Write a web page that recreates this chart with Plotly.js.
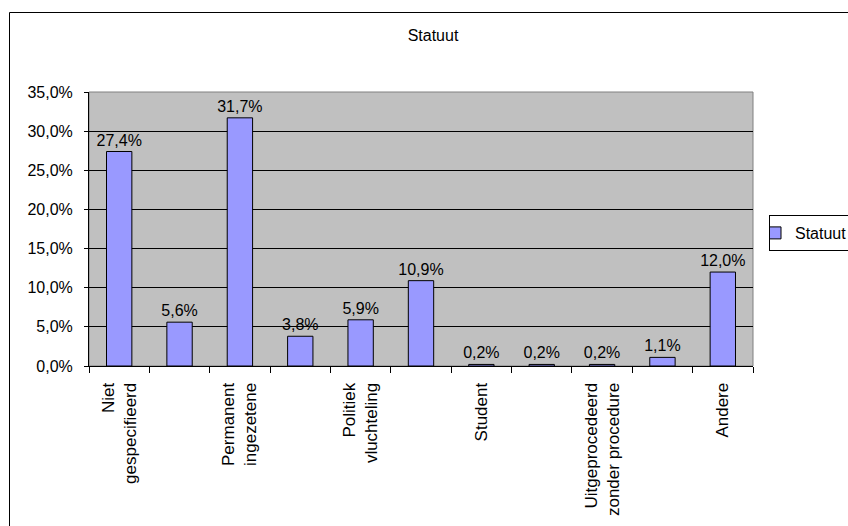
<!DOCTYPE html>
<html>
<head>
<meta charset="utf-8">
<script src="https://cdn.plot.ly/plotly-3.0.1.min.js"></script>
<style>
  html, body { margin: 0; padding: 0; background: #ffffff; }
  #chart { width: 848px; height: 526px; }
</style>
</head>
<body>
<div id="chart"></div>
<script>
// Categories (only every other one is labelled in the original chart)
var categories = [
  "Niet gespecifieerd", "", "Permanent ingezetene", "", "Politiek vluchteling",
  "", "Student", "", "Uitgeprocedeerd zonder procedure", "", "Andere"
];
var tickLabels = [
  "Niet<br>gespecifieerd", "", "Permanent<br>ingezetene", "", "Politiek<br>vluchteling",
  "", "Student", "", "Uitgeprocedeerd<br>zonder procedure", "", "Andere"
];
// Series values (percent)
var statuutValues = [27.4, 5.6, 31.7, 3.8, 5.9, 10.9, 0.2, 0.2, 0.2, 1.1, 12.0];
var seriesName = "Statuut";
var chartTitle = "Statuut";

var idx = categories.map(function (c, i) { return i; });
var boundaries = [];
for (var b = 0; b <= categories.length; b++) boundaries.push(b - 0.5);
var xRange = [-0.5, categories.length - 0.5];

var FONT = '"Liberation Sans", Arial, sans-serif';

var trace = {
  type: 'bar',
  name: seriesName,
  x: idx,
  y: statuutValues,
  width: 0.42,
  marker: { color: '#9999FF', line: { color: '#000000', width: 1 } },
  text: statuutValues,
  texttemplate: '%{y:.1f}%',
  textposition: 'outside',
  constraintext: 'none',
  cliponaxis: false,
  textfont: { family: FONT, size: 16, color: '#000000' },
  outsidetextfont: { family: FONT, size: 16, color: '#000000' },
  hoverinfo: 'skip'
};

var layout = {
  width: 848,
  height: 526,
  margin: { l: 89, r: 95, t: 92, b: 160, autoexpand: false },
  paper_bgcolor: '#ffffff',
  plot_bgcolor: '#C0C0C0',
  separators: ',.',
  font: { family: FONT, size: 16, color: '#000000' },
  title: {
    text: chartTitle,
    font: { family: FONT, size: 16, color: '#000000' },
    x: 433 / 848, xanchor: 'center', xref: 'container',
    y: 1 - 35 / 526, yanchor: 'middle', yref: 'container',
    automargin: false
  },
  showlegend: true,
  legend: {
    x: (769 - 89) / 664, xanchor: 'left',
    y: (366 - 215) / 274, yanchor: 'top',
    bgcolor: '#ffffff',
    bordercolor: '#000000',
    borderwidth: 1,
    indentation: -15,
    font: { family: FONT, size: 16, color: '#000000' }
  },
  bargap: 0,
  xaxis: {
    range: xRange,
    tickmode: 'array',
    tickvals: boundaries,
    showticklabels: false,
    ticks: 'outside',
    ticklen: 6,
    tickcolor: '#000000',
    showline: true,
    linecolor: '#000000',
    linewidth: 1,
    showgrid: false,
    zeroline: false,
    fixedrange: true
  },
  xaxis2: {
    overlaying: 'x',
    anchor: 'y',
    side: 'bottom',
    range: xRange,
    tickmode: 'array',
    tickvals: idx,
    ticktext: tickLabels,
    tickangle: -90,
    ticks: 'outside',
    ticklen: 9,
    tickcolor: 'rgba(0,0,0,0)',
    tickfont: { family: FONT, size: 17, color: '#000000' },
    showline: false,
    showgrid: false,
    zeroline: false,
    fixedrange: true
  },
  yaxis: {
    range: [0, 35],
    tickmode: 'linear',
    tick0: 0,
    dtick: 5,
    tickformat: '.1f',
    ticksuffix: '%',
    ticks: 'outside',
    ticklen: 4,
    tickcolor: '#000000',
    ticklabelstandoff: 8,
    tickfont: { family: FONT, size: 16, color: '#000000' },
    showline: true,
    linecolor: '#000000',
    linewidth: 1,
    showgrid: true,
    gridcolor: '#000000',
    gridwidth: 1,
    zeroline: false,
    fixedrange: true
  },
  shapes: [
    { type: 'rect', xref: 'paper', yref: 'paper', x0: 0, x1: 1, y0: 0, y1: 1,
      line: { color: '#808080', width: 1 }, fillcolor: 'rgba(0,0,0,0)', layer: 'below' },
    { type: 'rect', xref: 'paper', yref: 'paper',
      x0: (9.5 - 89) / 664, x1: (870 - 89) / 664,
      y0: (366 - 540) / 274, y1: (366 - 12.5) / 274,
      line: { color: '#000000', width: 1 }, fillcolor: 'rgba(0,0,0,0)', layer: 'below' }
  ]
};

// helper trace so the label axis (xaxis2) is drawn
var labelTrace = {
  type: 'scatter', mode: 'markers', x: idx, y: idx.map(function () { return null; }),
  xaxis: 'x2', yaxis: 'y', showlegend: false, hoverinfo: 'skip'
};

Plotly.newPlot('chart', [trace, labelTrace], layout, { staticPlot: true, displayModeBar: false });
</script>
</body>
</html>
